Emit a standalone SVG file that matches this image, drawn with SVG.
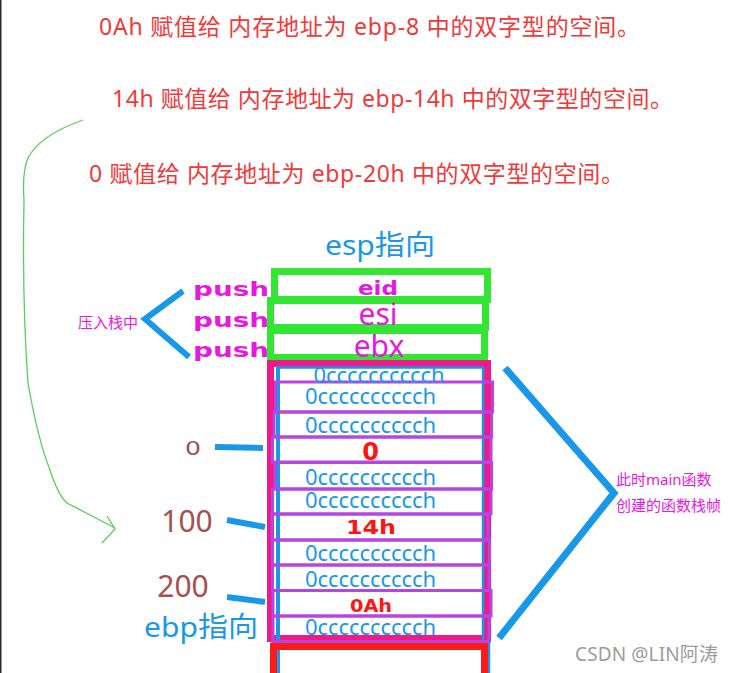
<svg xmlns="http://www.w3.org/2000/svg" width="733" height="673" viewBox="0 0 733 673">
<style>
.top{font-family:"Noto Sans","Noto Sans CJK SC",sans-serif;font-size:23px;fill:#f03a3a}
.cc{font-family:"Noto Sans",sans-serif;font-size:22px;fill:#1a98e8;text-anchor:middle}
.rv{font-family:"DejaVu Sans",sans-serif;font-weight:bold;fill:#ff1414;text-anchor:middle}
.push{font-family:"DejaVu Sans",sans-serif;font-weight:bold;font-size:19px;fill:#e619e0}
.reg{font-family:"Noto Sans","Noto Sans CJK SC",sans-serif;font-size:30px;fill:#e619e0;text-anchor:middle}
.small{font-family:"Noto Sans","Noto Sans CJK SC",sans-serif;font-size:15px;fill:#e619e0}
.blue{font-family:"Noto Sans","Noto Sans CJK SC",sans-serif;font-size:28px;fill:#1a98e8}
.brown{font-family:"Noto Sans",sans-serif;font-size:30px;fill:#a5514f;text-anchor:middle}
.grn{fill:none;stroke:#33e633;stroke-width:7}
.pur{fill:none;stroke:#b745e2;stroke-width:3}
.bl{stroke:#1a98e8;stroke-linecap:butt;fill:none}
</style>
<rect width="733" height="673" fill="#ffffff"/>
<line x1="0.75" y1="0" x2="0.75" y2="673" stroke="#2a2a2a" stroke-width="1.5"/>

<g id="notes">
<text class="top" x="99" y="35" textLength="541">0Ah 赋值给 内存地址为 ebp-8 中的双字型的空间。</text>
<text class="top" x="112" y="107" textLength="561">14h 赋值给 内存地址为 ebp-14h 中的双字型的空间。</text>
<text class="top" x="89" y="182" textLength="535">0 赋值给 内存地址为 ebp-20h 中的双字型的空间。</text>
</g>

<g id="connectors">
<path d="M83,120 Q40,135 28,158 Q22,172 24,200 Q22,300 28,383 Q38,440 50,470 Q58,495 67,503 L115,528" fill="none" stroke="#5ccc5c" stroke-width="1.3"/>
<path d="M107,516 L115,529 L102,543" fill="none" stroke="#5ccc5c" stroke-width="1.3"/>
<polyline class="bl" points="183,291 145,319 189,357" stroke-width="6"/>
<polyline class="bl" points="505,368 614,493 499,638" stroke-width="7"/>
<line class="bl" x1="215" y1="447" x2="263" y2="448" stroke-width="6"/>
<line class="bl" x1="227" y1="520" x2="265" y2="527" stroke-width="6"/>
<line class="bl" x1="227" y1="597" x2="265" y2="602" stroke-width="6"/>
</g>

<g id="esp-label"><text class="blue" x="325" y="255" textLength="110" lengthAdjust="spacingAndGlyphs">esp指向</text></g>
<g id="ebp-label"><text class="blue" x="144" y="637" textLength="114" lengthAdjust="spacingAndGlyphs">ebp指向</text></g>

<g id="push-group">
<text class="small" x="78" y="328">压入栈中</text>
<text class="push" x="193" y="296" textLength="76" lengthAdjust="spacingAndGlyphs">push</text>
<text class="push" x="193" y="327" textLength="76" lengthAdjust="spacingAndGlyphs">push</text>
<text class="push" x="193" y="357" textLength="76" lengthAdjust="spacingAndGlyphs">push</text>
</g>

<g id="reg-eid"><rect class="grn" x="274.5" y="271.5" width="213" height="28"/>
<text class="push" x="358" y="295" textLength="40" lengthAdjust="spacingAndGlyphs">eid</text></g>
<g id="reg-esi"><rect class="grn" x="270.5" y="300.5" width="215" height="27"/>
<text class="reg" x="378" y="325">esi</text></g>
<g id="reg-ebx"><rect class="grn" x="270.5" y="330.5" width="214" height="27"/>
<text class="reg" x="379" y="357">ebx</text></g>

<g id="main-frame">
<rect x="270.5" y="363.5" width="217" height="275" fill="none" stroke="#ee1a8a" stroke-width="7"/>
<rect x="278.5" y="367.5" width="204.5" height="320" fill="none" stroke="#1a98e8" stroke-width="2.5"/>
<line x1="278" y1="366" x2="278" y2="673" stroke="#1a98e8" stroke-width="4"/>
<line x1="489" y1="640" x2="489" y2="673" stroke="#1a98e8" stroke-width="2.5"/>
<rect class="pur" x="275.5" y="382" width="217" height="30"/>
<rect class="pur" x="274" y="412" width="217.5" height="25"/>
<rect class="pur" x="272.5" y="437" width="218.5" height="25"/>
<rect class="pur" x="275" y="462.5" width="216.5" height="26.5"/>
<rect class="pur" x="272.5" y="489" width="218.5" height="25"/>
<rect class="pur" x="272" y="514" width="216" height="26"/>
<rect class="pur" x="272.5" y="540" width="217" height="25"/>
<rect class="pur" x="272.5" y="565" width="216.5" height="25.5"/>
<rect class="pur" x="273" y="590.5" width="218" height="25.5"/>
<rect class="pur" x="273" y="616" width="216" height="25.5"/>
<text class="cc" x="379" y="383" textLength="131">0cccccccccch</text>
<text class="cc" x="370.5" y="404" textLength="131">0cccccccccch</text>
<text class="cc" x="370.5" y="433" textLength="131">0cccccccccch</text>
<text class="rv" x="370.5" y="460" font-size="24">0</text>
<text class="cc" x="370.5" y="485" textLength="131">0cccccccccch</text>
<text class="cc" x="370.5" y="508" textLength="131">0cccccccccch</text>
<text class="rv" x="371" y="534" font-size="20" textLength="50" lengthAdjust="spacingAndGlyphs">14h</text>
<text class="cc" x="370.5" y="561" textLength="131">0cccccccccch</text>
<text class="cc" x="370.5" y="587" textLength="131">0cccccccccch</text>
<text class="rv" x="371" y="612" font-size="18" textLength="42" lengthAdjust="spacingAndGlyphs">0Ah</text>
<text class="cc" x="370.5" y="635" textLength="131">0cccccccccch</text>
</g>

<g id="next-frame"><rect x="273.5" y="646.5" width="211" height="40" fill="none" stroke="#ff1a1a" stroke-width="7"/></g>

<g id="offsets">
<text x="185" y="455" font-family="DejaVu Sans,sans-serif" font-size="20" fill="#a5514f" textLength="16" lengthAdjust="spacingAndGlyphs">0</text>
<text class="brown" x="187" y="532">100</text>
<text class="brown" x="183" y="597">200</text>
</g>

<g id="frame-note">
<text class="small" x="616" y="485">此时main函数</text>
<text class="small" x="616" y="511">创建的函数栈帧</text>
</g>

<text x="575" y="661" font-family="Noto Sans,Noto Sans CJK SC,sans-serif" font-size="19" fill="#9c9c9c" textLength="143">CSDN @LIN阿涛</text>
</svg>
